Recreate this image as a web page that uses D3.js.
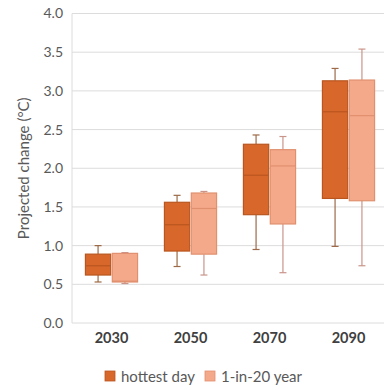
<!DOCTYPE html>
<html>
<head>
<meta charset="utf-8">
<script src="https://cdn.jsdelivr.net/npm/d3@7"></script>
<style>
  html, body { margin: 0; padding: 0; background: #fff; }
  svg { display: block; font-family: Lato, "Open Sans", sans-serif; }
</style>
</head>
<body>
<svg id="chart" width="384" height="390"></svg>
<script>
// Projected change in temperature, by decade
const years = ["2030", "2050", "2070", "2090"];
const seriesNames = ["hottest day", "1-in-20 year"];

// Box statistics per decade: [min, q1, median, q3, max]
const hottestDay = [
  [0.53, 0.62, 0.74, 0.89, 1.00],
  [0.73, 0.93, 1.27, 1.56, 1.65],
  [0.95, 1.40, 1.91, 2.31, 2.43],
  [0.99, 1.61, 2.73, 3.13, 3.29]
];
const oneIn20Year = [
  [0.51, 0.53, 0.54, 0.90, 0.91],
  [0.62, 0.89, 1.48, 1.68, 1.70],
  [0.65, 1.28, 2.03, 2.24, 2.41],
  [0.74, 1.58, 2.68, 3.14, 3.54]
];
const yTicks = [0, 0.5, 1.0, 1.5, 2.0, 2.5, 3.0, 3.5, 4.0];

const fills = ["#D8672B", "#F4A98A"];
const strokes = ["#B9561F", "#E0906F"];
const whiskerColors = ["#9C6A48", "#C9958A"];

const svg = d3.select("#chart");
const plotLeft = 72, plotRight = 388, plotTop = 13.5, plotBottom = 323;

const x = d3.scaleBand().domain(years).range([plotLeft, plotRight]).paddingInner(0).paddingOuter(0);
const xs = d3.scaleBand().domain(seriesNames).range([0, x.bandwidth()]).paddingInner(0.06).paddingOuter(0.5);
const y = d3.scaleLinear().domain([0, 4]).range([plotBottom, plotTop]);

// gridlines
svg.append("g")
  .selectAll("line")
  .data(yTicks)
  .join("line")
  .attr("x1", plotLeft).attr("x2", 384)
  .attr("y1", d => y(d)).attr("y2", d => y(d))
  .attr("stroke", "#DCDCDC").attr("stroke-width", 1);

// left axis line
svg.append("line")
  .attr("x1", plotLeft).attr("x2", plotLeft)
  .attr("y1", plotTop).attr("y2", plotBottom)
  .attr("stroke", "#DCDCDC");

// y tick labels
const yAxis = d3.axisLeft(y).tickValues(yTicks).tickFormat(d3.format(".1f")).tickSize(0).tickPadding(9);
const yg = svg.append("g").attr("transform", `translate(${plotLeft},0)`).call(yAxis);
yg.select(".domain").remove();
yg.selectAll("text").attr("fill", "#595959").style("font-size", "14px").style("font-family", "Lato, sans-serif");

// x labels
const xAxis = d3.axisBottom(x).tickSize(0).tickPadding(10);
const xg = svg.append("g").attr("transform", `translate(0,${plotBottom})`).call(xAxis);
xg.select(".domain").remove();
xg.selectAll("text").attr("fill", "#404040").style("font-size", "14.5px").style("font-weight", "bold").style("font-family", "Lato, sans-serif");

// y axis title
svg.append("text")
  .attr("transform", `translate(25,${(plotTop + plotBottom) / 2}) rotate(-90)`)
  .attr("text-anchor", "middle")
  .attr("dominant-baseline", "middle")
  .attr("fill", "#595959")
  .style("font-size", "15px")
  .text("Projected change (°C)");

// boxes
const allSeries = [hottestDay, oneIn20Year];
const capW = 7;
allSeries.forEach((series, si) => {
  const g = svg.append("g");
  series.forEach((s, i) => {
    const [mn, q1, med, q3, mx] = s;
    const x0 = x(years[i]) + xs(seriesNames[si]);
    const w = xs.bandwidth();
    const cx = x0 + w / 2;
    // whiskers
    g.append("line").attr("x1", cx).attr("x2", cx).attr("y1", y(q3)).attr("y2", y(mx))
      .attr("stroke", whiskerColors[si]).attr("stroke-width", 1.2);
    g.append("line").attr("x1", cx).attr("x2", cx).attr("y1", y(q1)).attr("y2", y(mn))
      .attr("stroke", whiskerColors[si]).attr("stroke-width", 1.2);
    g.append("line").attr("x1", cx - capW / 2).attr("x2", cx + capW / 2).attr("y1", y(mx)).attr("y2", y(mx))
      .attr("stroke", whiskerColors[si]).attr("stroke-width", 1.2);
    g.append("line").attr("x1", cx - capW / 2).attr("x2", cx + capW / 2).attr("y1", y(mn)).attr("y2", y(mn))
      .attr("stroke", whiskerColors[si]).attr("stroke-width", 1.2);
    // box
    g.append("rect").attr("x", x0).attr("width", w)
      .attr("y", y(q3)).attr("height", y(q1) - y(q3))
      .attr("fill", fills[si]).attr("stroke", strokes[si]).attr("stroke-width", 1.2);
    // median
    g.append("line").attr("x1", x0).attr("x2", x0 + w).attr("y1", y(med)).attr("y2", y(med))
      .attr("stroke", strokes[si]).attr("stroke-width", 1.2);
  });
});

// legend
const legend = svg.append("g").attr("transform", "translate(105,376)");
const legendX = [0, 100];
seriesNames.forEach((name, i) => {
  const lg = legend.append("g").attr("transform", `translate(${legendX[i]},0)`);
  lg.append("rect").attr("x", 0).attr("y", -5).attr("width", 10).attr("height", 10)
    .attr("fill", fills[i]).attr("stroke", strokes[i]).attr("stroke-width", 0.8);
  lg.append("text").attr("x", 16).attr("y", 0).attr("dominant-baseline", "central")
    .attr("fill", "#595959").style("font-size", "15px").text(name);
});
</script>
</body>
</html>
